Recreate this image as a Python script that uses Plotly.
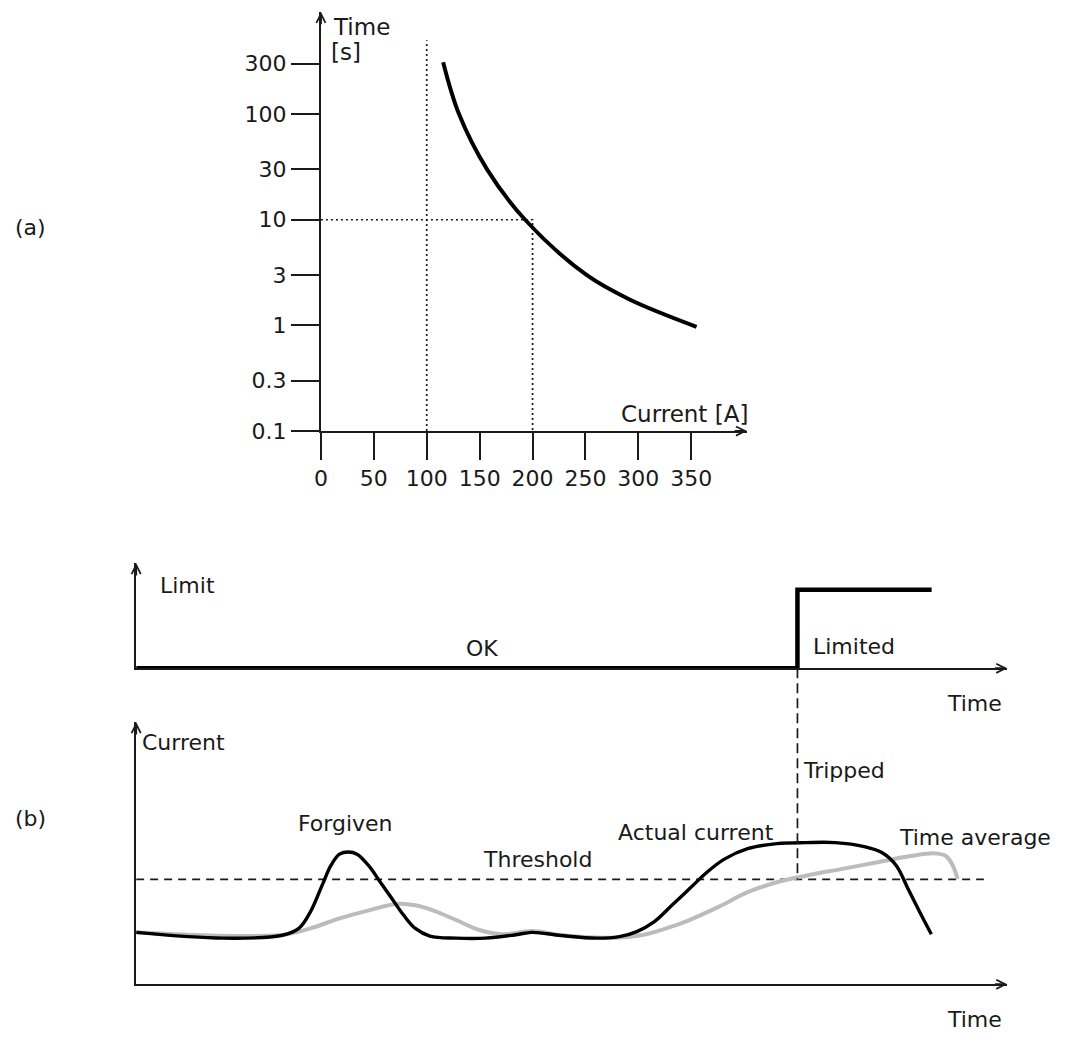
import plotly.graph_objects as go

W, H = 1072, 1046
FONT = "DejaVu Sans"
INK = "#1a1a1a"

# ---------------- data: panel (a) trip curve ----------------
trip_current = [115.5, 130.5, 157.0, 193.0, 251.0, 291.7, 355.0]
trip_time = [310, 100, 30, 10.0, 3.0, 1.76, 0.97]
a_xticks = [0, 50, 100, 150, 200, 250, 300, 350]
a_yticks = [0.1, 0.3, 1, 3, 10, 30, 100, 300]
a_yticktext = ["0.1", "0.3", "1", "3", "10", "30", "100", "300"]
rated_current = 100
check_current = 200
check_time = 10
guide_top_time = 500

# ---------------- data: panel (b) ----------------
limit_time = [0, 75.9, 75.9, 91.3]
limit_value = [0, 0, 1, 1]

actual_t = [0, 9.97, 16.66, 18.67, 20.0, 21.33, 22.34, 23.34, 24.34, 25.35, 26.69, 28.03,
            29.37, 30.71, 32.04, 33.72, 36.73, 40.08, 43.42, 45.43, 48.77, 52.79, 55.47,
            57.47, 59.48, 61.49, 63.5, 65.51, 67.51, 70.18, 73.53, 76.88, 80.23, 83.57,
            85.58, 87.25, 88.59, 89.93, 91.27]
actual_c = [19.8, 17.6, 18.6, 21.3, 27.6, 37.6, 45.2, 49.6, 50.4, 49.6, 45.2, 38.9,
            32.6, 26.3, 21.3, 18.4, 17.6, 17.6, 18.8, 19.8, 18.6, 17.6, 18.2,
            20.1, 23.9, 30.1, 36.4, 42.7, 47.7, 51.7, 53.6, 54.0, 54.0, 52.5,
            50.2, 45.2, 36.4, 27.6, 19.1]

avg_t = [0, 6.61, 13.31, 17.32, 20.0, 23.34, 26.69, 30.04, 32.04, 34.05, 36.73, 39.41,
         42.09, 45.43, 48.77, 52.79, 55.47, 58.14, 60.82, 63.5, 66.84, 70.18, 73.53,
         76.88, 80.89, 84.9, 88.91, 91.6, 92.94, 93.74, 94.28]
avg_c = [19.8, 18.8, 18.4, 19.1, 21.3, 25.1, 28.2, 30.7, 30.1, 28.2, 24.5, 20.7,
         19.1, 20.3, 18.8, 17.8, 17.8, 18.8, 21.3, 24.5, 29.5, 35.1, 38.9,
         41.4, 43.9, 46.4, 48.9, 49.9, 48.9, 45.2, 40.2]

threshold = 40
threshold_end = 97.3
trip_t = 75.9

# ---------------- layout helpers ----------------
def X(px):
    return px / W

def Y(py):
    return 1 - py / H

a_dom_x = [X(316), X(745)]
a_dom_y = [Y(436.5), Y(12)]
a_xmax = (745 - 316) / 1.065
a_ymax = -1 + (436.5 - 12) / 107

b_dom_x = [X(130), X(1007)]
lim_dom_y = [Y(676.7), Y(570)]
lim_range = [0, 1.34]
cur_dom_y = [Y(996.7), Y(731)]
cur_range = [0, 100]

fig = go.Figure()

# panel (a)
fig.add_trace(go.Scatter(x=[rated_current, rated_current], y=[0.1, guide_top_time],
                         mode="lines", line=dict(color=INK, width=1.7, dash="2px,3px"),
                         xaxis="x", yaxis="y", hoverinfo="skip"))
fig.add_trace(go.Scatter(x=[0, check_current, check_current], y=[check_time, check_time, 0.1],
                         mode="lines", line=dict(color=INK, width=1.7, dash="2px,3px"),
                         xaxis="x", yaxis="y", hoverinfo="skip"))
fig.add_trace(go.Scatter(x=trip_current, y=trip_time, mode="lines",
                         line=dict(color="#000000", width=4, shape="spline", smoothing=1.0),
                         xaxis="x", yaxis="y"))

# panel (b) limit
fig.add_trace(go.Scatter(x=limit_time, y=limit_value, mode="lines",
                         line=dict(color="#000000", width=4.5),
                         xaxis="x2", yaxis="y2"))

# panel (b) current
fig.add_trace(go.Scatter(x=[0, threshold_end], y=[threshold, threshold], mode="lines",
                         line=dict(color=INK, width=1.7, dash="8px,6px"),
                         xaxis="x3", yaxis="y3", hoverinfo="skip"))
fig.add_trace(go.Scatter(x=avg_t, y=avg_c, mode="lines",
                         line=dict(color="#bcbcbc", width=4, shape="spline", smoothing=1.0),
                         xaxis="x3", yaxis="y3"))
fig.add_trace(go.Scatter(x=actual_t, y=actual_c, mode="lines",
                         line=dict(color="#000000", width=3.4, shape="spline", smoothing=1.0),
                         xaxis="x3", yaxis="y3"))

# tripped dashed line spanning limit and current panels
def lim_to_paper(v):
    return lim_dom_y[0] + (v - lim_range[0]) / (lim_range[1] - lim_range[0]) * (lim_dom_y[1] - lim_dom_y[0])

def cur_to_paper(v):
    return cur_dom_y[0] + (v - cur_range[0]) / (cur_range[1] - cur_range[0]) * (cur_dom_y[1] - cur_dom_y[0])

fig.add_shape(type="line", xref="x3", yref="paper", x0=trip_t, x1=trip_t,
              y0=lim_to_paper(0), y1=cur_to_paper(threshold),
              line=dict(color=INK, width=1.7, dash="10px,5px"))

axis_common = dict(showgrid=False, zeroline=False, showline=True, linecolor=INK, linewidth=2)

fig.update_layout(
    width=W, height=H, margin=dict(l=0, r=0, t=0, b=0),
    paper_bgcolor="white", plot_bgcolor="rgba(0,0,0,0)", showlegend=False,
    font=dict(family=FONT, size=22, color=INK),
    xaxis=dict(domain=a_dom_x, range=[0, a_xmax], tickvals=a_xticks, ticks="outside",
               ticklen=27, tickwidth=2, tickcolor=INK, anchor="y",
               tickfont=dict(size=22), **axis_common),
    yaxis=dict(domain=a_dom_y, type="log", range=[-1, a_ymax], tickvals=a_yticks,
               ticktext=a_yticktext, ticks="outside", ticklen=28, tickwidth=2, tickcolor=INK,
               anchor="x", tickfont=dict(size=22), **axis_common),
    xaxis2=dict(domain=b_dom_x, range=[0, 100], showticklabels=False, ticks="", anchor="y2",
                **axis_common),
    yaxis2=dict(domain=lim_dom_y, range=lim_range, showticklabels=False, ticks="", anchor="x2",
                **axis_common),
    xaxis3=dict(domain=b_dom_x, range=[0, 100], showticklabels=False, ticks="", anchor="y3",
                **axis_common),
    yaxis3=dict(domain=cur_dom_y, range=cur_range, showticklabels=False, ticks="", anchor="x3",
                **axis_common),
)

# axis arrowheads
def arrowhead(xref, yref, x, y, ax, ay):
    fig.add_annotation(xref=xref, yref=yref, x=x, y=y, ax=ax, ay=ay, axref="pixel", ayref="pixel",
                       text="", showarrow=True, arrowhead=5, arrowsize=0.9, arrowwidth=2,
                       arrowcolor=INK, standoff=0)

arrowhead("x domain", "y domain", 0, 1, 0, 14)
arrowhead("x domain", "y domain", 1, 0, -14, 0)
arrowhead("x2 domain", "y2 domain", 0, 1, 0, 14)
arrowhead("x2 domain", "y2 domain", 1, 0, -14, 0)
arrowhead("x3 domain", "y3 domain", 0, 1, 0, 14)
arrowhead("x3 domain", "y3 domain", 1, 0, -14, 0)

# text labels
def label(text, px, py, xanchor="left", size=22):
    fig.add_annotation(xref="paper", yref="paper", x=X(px), y=Y(py), text=text, showarrow=False,
                       xanchor=xanchor, yanchor="middle", font=dict(family=FONT, size=size, color=INK))

label("(a)", 6, 230, size=22)
label("(b)", 6, 829, size=22)
label("Time", 326, 27, size=23)
label("[s]", 324, 53, size=23)
label("Current [A]", 616, 419, size=23)

label("Limit", 152, 593)
label("OK", 478, 657, xanchor="center")
label("Limited", 809, 655)
label("Time", 1004, 712, xanchor="right")

label("Current", 134, 752)
label("Tripped", 799, 780)
label("Forgiven", 341, 834, xanchor="center")
label("Threshold", 534, 870, xanchor="center")
label("Actual current", 694, 843, xanchor="center")
label("Time average", 896, 848)
label("Time", 1004, 1032, xanchor="right")

fig.write_html("out.html")
